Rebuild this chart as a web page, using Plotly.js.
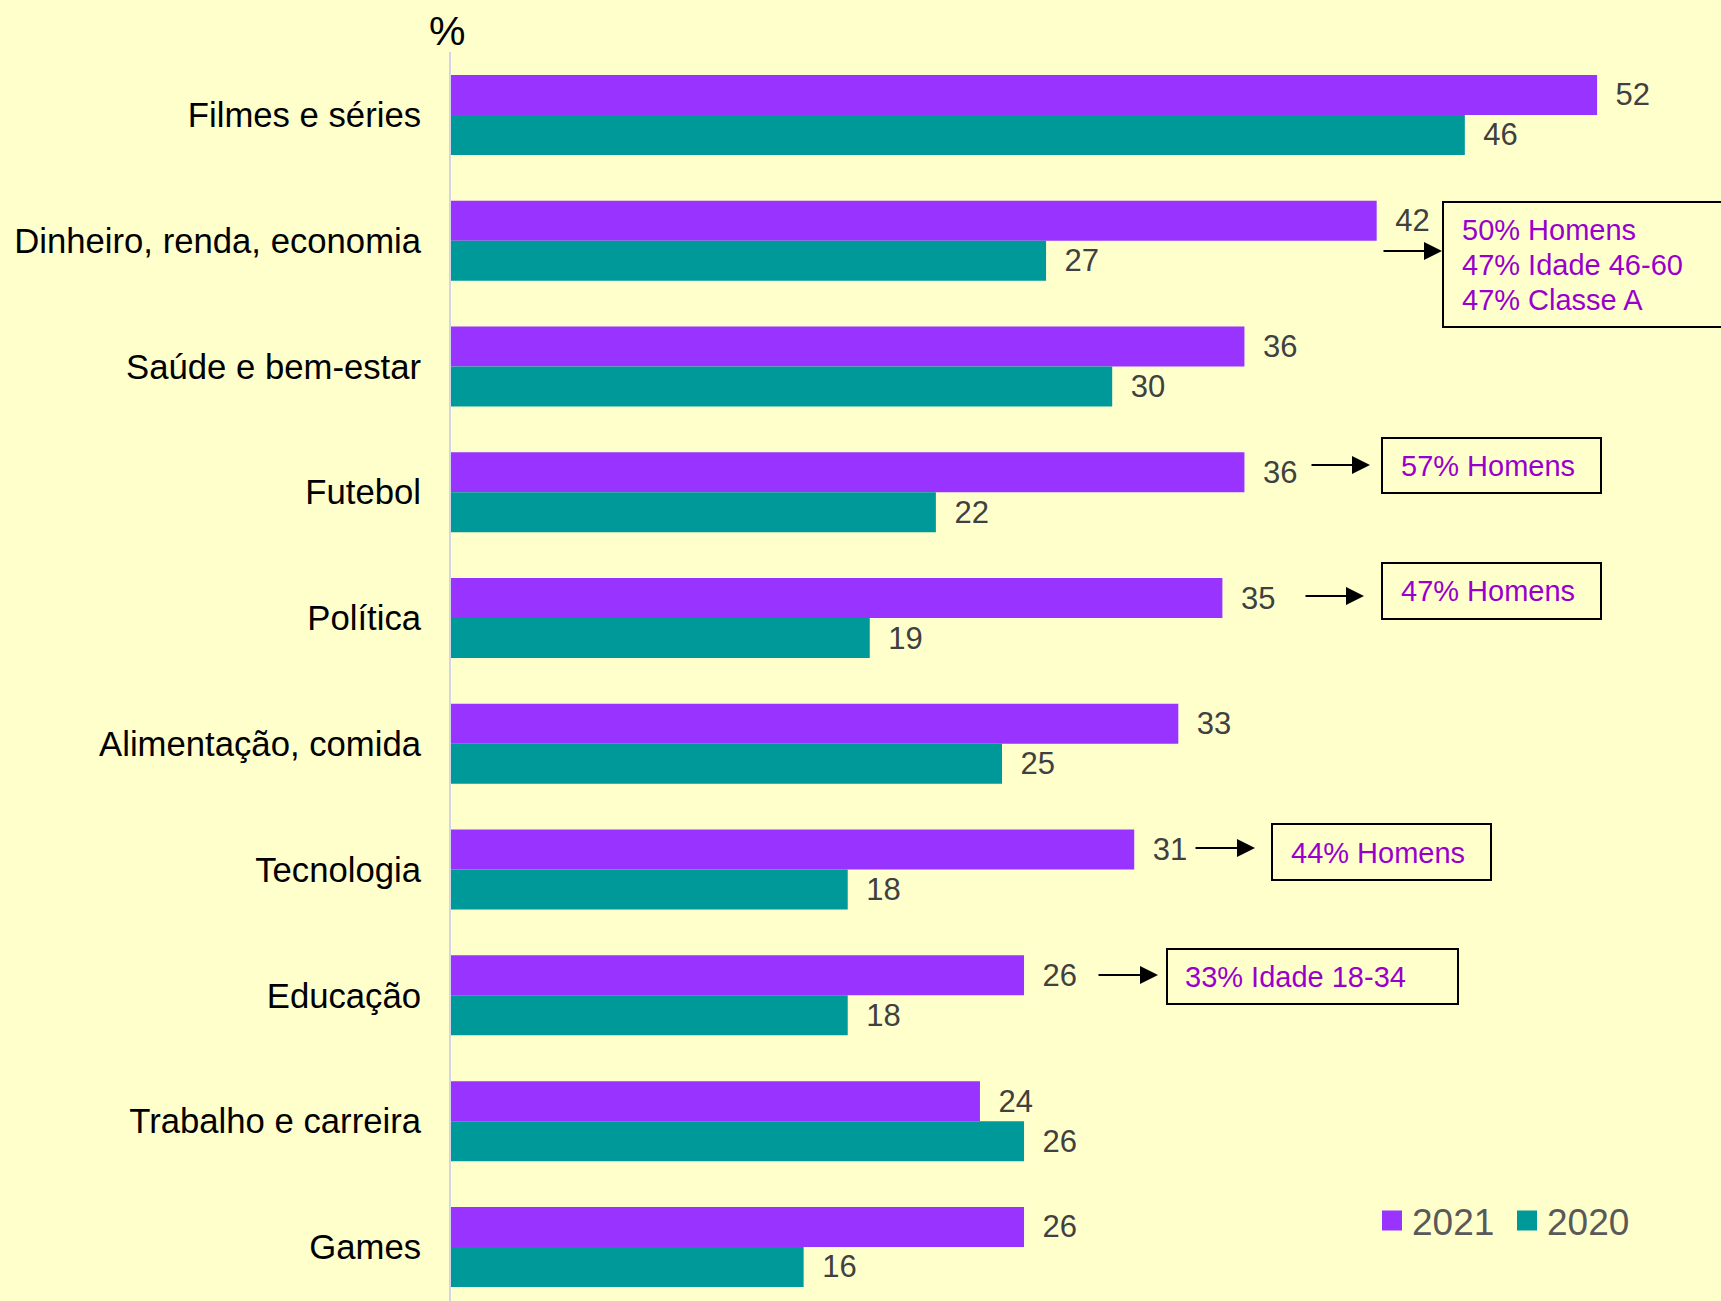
<!DOCTYPE html>
<html>
<head>
<meta charset="utf-8">
<script src="https://cdn.plot.ly/plotly-3.0.1.min.js"></script>
<style>
  html, body { margin: 0; padding: 0; background: #FFFFCC; }
  #chart { width: 1721px; height: 1301px; }
</style>
</head>
<body>
<div id="chart"></div>
<script>
// ---- data ----
const categories = [
  "Filmes e séries",
  "Dinheiro, renda, economia",
  "Saúde e bem-estar",
  "Futebol",
  "Política",
  "Alimentação, comida",
  "Tecnologia",
  "Educação",
  "Trabalho e carreira",
  "Games"
];
const values2021 = [52, 42, 36, 36, 35, 33, 31, 26, 24, 26];
const values2020 = [46, 27, 30, 22, 19, 25, 18, 18, 26, 16];
const seriesNames = ["2021", "2020"];

// callout notes (category they refer to, lines of text)
const noteCategories = ["Dinheiro, renda, economia", "Futebol", "Política", "Tecnologia", "Educação"];
const noteLines = [
  ["50% Homens", "47% Idade 46-60", "47% Classe A"],
  ["57% Homens"],
  ["47% Homens"],
  ["44% Homens"],
  ["33% Idade 18-34"]
];

// ---- layout geometry (pixels) ----
const W = 1721, H = 1301;
const M = { l: 451, r: 0, t: 52, b: 0 };
const PW = W - M.l - M.r, PH = H - M.t - M.b;
const px = x => (x - M.l) / PW;
const py = y => 1 - (y - M.t) / PH;

// box placements for each note: [left, top, right, bottom], arrow [x0, x1, y]
const noteBoxes = [
  { box: [1443, 202, 1740, 327], textX: 1460, lineY: [230, 265, 300], arrow: [1382, 1442, 251] },
  { box: [1382, 438, 1601, 493], textX: 1399, lineY: [466], arrow: [1310, 1370, 465] },
  { box: [1382, 563, 1601, 619], textX: 1399, lineY: [591], arrow: [1304, 1364, 596] },
  { box: [1272, 824, 1491, 880], textX: 1289, lineY: [853], arrow: [1194, 1255, 848] },
  { box: [1167, 949, 1458, 1004], textX: 1183, lineY: [977], arrow: [1097, 1158, 975] }
];

const FONT = '"Liberation Sans", Arial, "DejaVu Sans", sans-serif';
const COLORS = ['#9933FF', '#009999'];
const seriesValues = [values2021, values2020];

const traces = [];
seriesValues.forEach((vals, i) => {
  traces.push({
    type: 'bar', orientation: 'h', name: seriesNames[i],
    y: categories, x: vals, showlegend: false, legendgroup: seriesNames[i],
    marker: { color: COLORS[i], line: { width: 0 } },
    texttemplate: '\u2002%{x}',
    textposition: 'outside', cliponaxis: false, constraintext: 'none',
    textfont: { family: FONT, size: 31, color: '#404040' },
    hoverinfo: 'x+y'
  });
});
// legend entries (square swatches, no data drawn)
seriesValues.forEach((vals, i) => {
  traces.push({
    type: 'scatter', mode: 'markers', name: seriesNames[i],
    x: [null], y: [null], legendgroup: seriesNames[i], showlegend: true,
    marker: { symbol: 'square', size: 16, color: COLORS[i], line: { width: 4, color: COLORS[i] } },
    hoverinfo: 'skip'
  });
});

const shapes = [];
const annotations = [];

// percent sign
annotations.push({
  xref: 'paper', yref: 'paper', x: px(447), y: py(31),
  xanchor: 'center', yanchor: 'middle', showarrow: false,
  text: '%', font: { family: FONT, size: 41, color: '#000000' }
});

noteBoxes.forEach((nb, i) => {
  const [l, t, r, b] = nb.box;
  shapes.push({
    type: 'rect', xref: 'paper', yref: 'paper',
    x0: px(l), x1: px(r), y0: py(b), y1: py(t),
    line: { color: '#000000', width: 2 }, fillcolor: 'rgba(0,0,0,0)'
  });
  noteLines[i].forEach((line, j) => {
    annotations.push({
      xref: 'paper', yref: 'paper', x: px(nb.textX), y: py(nb.lineY[j]),
      xanchor: 'left', yanchor: 'middle', showarrow: false,
      text: line, font: { family: FONT, size: 29, color: '#9900CC' }
    });
  });
  const [a0, a1, ay] = nb.arrow;
  annotations.push({
    xref: 'paper', yref: 'paper', x: px(a1), y: py(ay),
    ax: a0 - a1, ay: 0, axref: 'pixel', ayref: 'pixel',
    showarrow: true, text: '', arrowhead: 2, arrowsize: 1.8, arrowwidth: 2,
    arrowcolor: '#000000', standoff: 0
  });
});

const layout = {
  width: W, height: H,
  margin: M,
  paper_bgcolor: '#FFFFCC', plot_bgcolor: '#FFFFCC',
  font: { family: FONT },
  barmode: 'group', bargap: 0.364, bargroupgap: 0,
  showlegend: true,
  legend: {
    orientation: 'h', xref: 'paper', yref: 'paper',
    x: px(1372), y: py(1221), xanchor: 'left', yanchor: 'middle',
    bgcolor: 'rgba(0,0,0,0)', traceorder: 'normal', itemsizing: 'trace',
    entrywidth: 90, entrywidthmode: 'pixels',
    font: { family: FONT, size: 37, color: '#595959' }
  },
  xaxis: {
    range: [0, PW / 22.04], showgrid: false, zeroline: false,
    showticklabels: false, showline: false, ticks: '', fixedrange: true
  },
  yaxis: {
    type: 'category', categoryorder: 'array', categoryarray: categories,
    range: [9.43, -0.5], showgrid: false, zeroline: false,
    showline: true, linecolor: '#D4D4E8', linewidth: 2,
    ticks: '', ticklabelstandoff: 21, automargin: false,
    tickfont: { family: FONT, size: 34.7, color: '#000000' }
  },
  shapes: shapes,
  annotations: annotations
};

Plotly.newPlot('chart', traces, layout, { displayModeBar: false, staticPlot: true });
</script>
</body>
</html>
